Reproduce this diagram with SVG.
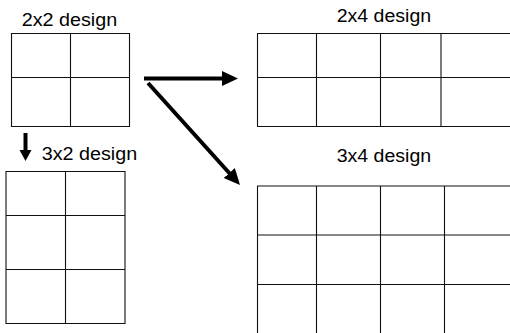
<svg xmlns="http://www.w3.org/2000/svg" width="510" height="333" viewBox="0 0 510 333">
  <style>
    .grid { fill: none; stroke: #111; stroke-width: 1.1; }
    .lbl { font-family: "Liberation Sans", Arial, sans-serif; font-size: 17.5px; fill: #000; }
    .arrow { stroke: #000; stroke-width: 4; fill: none; }
  </style>
  <defs>
    <marker id="head" markerUnits="userSpaceOnUse" markerWidth="16" markerHeight="16" refX="6" refY="7.5" orient="auto">
      <path d="M0,0 L16,7.5 L0,15 z" fill="#000"/>
    </marker>
    <marker id="headSmall" markerUnits="userSpaceOnUse" markerWidth="12" markerHeight="13" refX="3" refY="6" orient="auto">
      <path d="M0,0 L11,6 L0,12 z" fill="#000"/>
    </marker>
  </defs>
  <rect width="510" height="333" fill="#fff"/>

  <g id="design2x2">
    <text class="lbl" x="21.7" y="25.7" textLength="95.5" lengthAdjust="spacingAndGlyphs">2x2 design</text>
    <path class="grid" d="M11.5,33.5 H129.5 V126.5 H11.5 Z M70.5,33.5 V126.5 M11.5,77.5 H129.5"/>
  </g>

  <g id="design3x2">
    <text class="lbl" x="41.7" y="160" textLength="95.5" lengthAdjust="spacingAndGlyphs">3x2 design</text>
    <path class="grid" d="M6,171.5 H125 V323.5 H6 Z M65.5,171.5 V323.5 M6,215.5 H125 M6,269.5 H125"/>
  </g>

  <g id="design2x4">
    <text class="lbl" x="336.7" y="21.7" textLength="94.5" lengthAdjust="spacingAndGlyphs">2x4 design</text>
    <path class="grid" d="M510,33.5 H257.5 V126.5 H510 M316.5,33.5 V126.5 M380.5,33.5 V126.5 M441,33.5 V126.5 M257.5,77.5 H510"/>
  </g>

  <g id="design3x4">
    <text class="lbl" x="336.7" y="162.3" textLength="94.5" lengthAdjust="spacingAndGlyphs">3x4 design</text>
    <path class="grid" d="M510,186 H257.5 V333 M316.5,186 V333 M380.5,186 V333 M444.5,186 V333 M257.5,235 H510 M257.5,284.5 H510"/>
  </g>

  <g id="connectors">
    <line class="arrow" x1="144" y1="78.5" x2="228" y2="78.5" marker-end="url(#head)"/>
    <line class="arrow" x1="148" y1="83" x2="233.3" y2="177.5" marker-end="url(#head)"/>
    <line class="arrow" x1="25.5" y1="133" x2="25.5" y2="153" marker-end="url(#headSmall)"/>
  </g>
</svg>
